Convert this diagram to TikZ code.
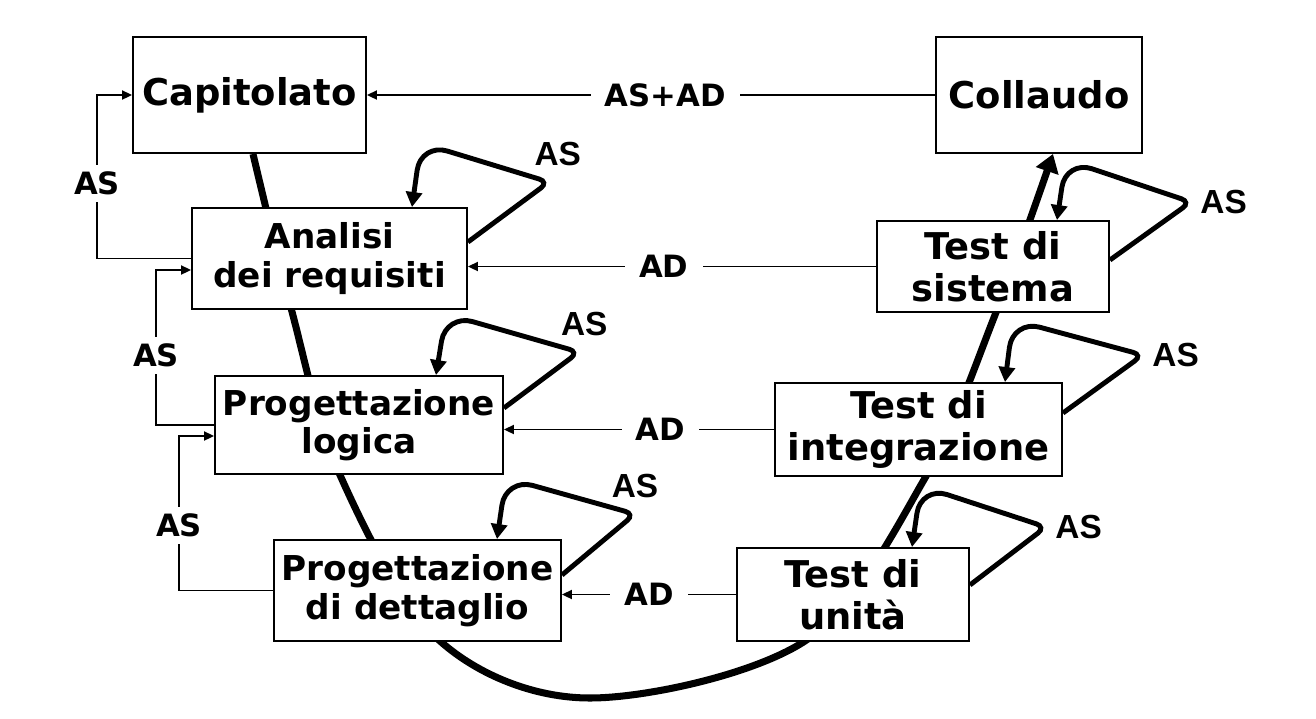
\documentclass[tikz,border=0pt]{standalone}
\usepackage{fontspec}
\setmainfont{DejaVu Sans}
\newfontfamily\arialfont[BoldFont={Liberation Sans Bold}]{Liberation Sans}
\usepackage{tikz}
\usetikzlibrary{positioning,arrows.meta,calc,backgrounds}

\begin{document}
\begin{tikzpicture}[
    x=0.02cm, y=-0.02cm,
    box/.style={draw, line width=1.1pt, fill=white, inner sep=0pt, align=center, font=\bfseries\fontsize{21}{24}\selectfont},
    midbox/.style={box, font=\bfseries\fontsize{19.5}{22}\selectfont},
    link/.style={-{Triangle[length=0.2cm,width=0.18cm]}, line width=1.1pt},
    selfloop/.style={-{Triangle[length=0.3cm,width=0.32cm]}, line width=2.8pt, rounded corners=0.2cm},
    flow/.style={-{Triangle[length=0.36cm,width=0.46cm]}, line width=4pt},
    lbl/.style={fill=white, inner xsep=8pt, inner ysep=4pt, font=\bfseries\fontsize{17.5}{20}\selectfont},
    aslbl/.style={inner sep=2pt, font=\arialfont\bfseries\fontsize{19}{21}\selectfont}
]
    \useasboundingbox (0,0) rectangle (1316,718);

    % Top row
    \node[box, minimum width=4.66cm, minimum height=2.32cm] (cap) at (249.5,95) {Capitolato};
    \node[box, minimum width=4.12cm, minimum height=2.32cm] (coll) at (1039,95) {Collaudo};

    % Left branch
    \node[midbox, minimum width=5.5cm, minimum height=2.02cm] (ana) at (329.5,258.5) {Analisi\\dei requisiti};
    \node[midbox, minimum width=5.76cm, minimum height=1.96cm] (logica) at (359,425) {Progettazione\\logica};
    \node[midbox, minimum width=5.74cm, minimum height=2.02cm] (dett) at (417.5,590.5) {Progettazione\\di dettaglio};

    % Right branch
    \node[box, minimum width=4.64cm, minimum height=1.82cm] (sis) at (993,266.5) {Test di\\sistema};
    \node[box, minimum width=5.74cm, minimum height=1.86cm] (integ) at (918.5,429.5) {Test di\\integrazione};
    \node[box, minimum width=4.64cm, minimum height=1.86cm] (unita) at (853,594.5) {Test di\\unità};

    % Main V curve
    \begin{scope}[on background layer]
        \draw[flow] plot[smooth, tension=0.55] coordinates {([xshift=0.07cm]cap.south) (291,308) (340,475) (440,641) (590,698) (805,641) (925,478) (995,315) ([xshift=0.28cm]coll.south)};
    \end{scope}

    % Horizontal arrows
    \draw[link] (coll) -- node[lbl, pos=0.475]{AS+AD} (cap);
    \draw[link] (sis.west) -- node[lbl, pos=0.52]{AD} (sis.west -| ana.east);
    \draw[link] (integ.west) -- node[lbl, pos=0.42]{AD} (integ.west -| logica.east);
    \draw[link] (unita.west) -- node[lbl, pos=0.5]{AD} (unita.west -| dett.east);

    % Feedback on the left
    \draw[link] (ana.west) -- ++(-94,0) |- node[lbl, pos=0.23]{AS} (cap.west);
    \draw[link] (logica.west) -- ++(-58,0) |- node[lbl, pos=0.225]{AS} ([yshift=-0.23cm]ana.west);
    \draw[link] (dett.west) -- ++(-94,0) |- node[lbl, pos=0.21]{AS} ([yshift=-0.22cm]logica.west);

    % Self loops
    \draw[selfloop] ([yshift=0.33cm]ana.east) -- ++(81,-60) node[aslbl, above=6pt, xshift=5pt]{AS} [rounded corners=0.55cm] -- ++(-128,-39) -- ([xshift=1.65cm]ana.north);
    \draw[selfloop] ([yshift=0.34cm]logica.east) -- ++(75,-56) node[aslbl, above=6pt, xshift=3pt]{AS} [rounded corners=0.55cm] -- ++(-133,-38) -- ([xshift=1.54cm]logica.north);
    \draw[selfloop] ([yshift=0.31cm]dett.east) -- ++(73,-61) node[aslbl, above=6pt]{AS} [rounded corners=0.55cm] -- ++(-129,-36) -- ([xshift=1.59cm]dett.north);
    \draw[selfloop] ([yshift=0.13cm]sis.east) -- ++(81,-58) node[aslbl, right=2pt]{AS} [rounded corners=0.55cm] -- ++(-125,-42) -- ([xshift=1.28cm]sis.north);
    \draw[selfloop] ([yshift=0.33cm]integ.east) -- ++(80,-58) node[aslbl, right=2pt]{AS} [rounded corners=0.55cm] -- ++(-130,-35) -- ([xshift=1.73cm]integ.north);
    \draw[selfloop] ([yshift=0.19cm]unita.east) -- ++(76,-58) node[aslbl, right=2pt]{AS} [rounded corners=0.55cm] -- ++(-125,-41) -- ([xshift=1.18cm]unita.north);
\end{tikzpicture}
\end{document}
